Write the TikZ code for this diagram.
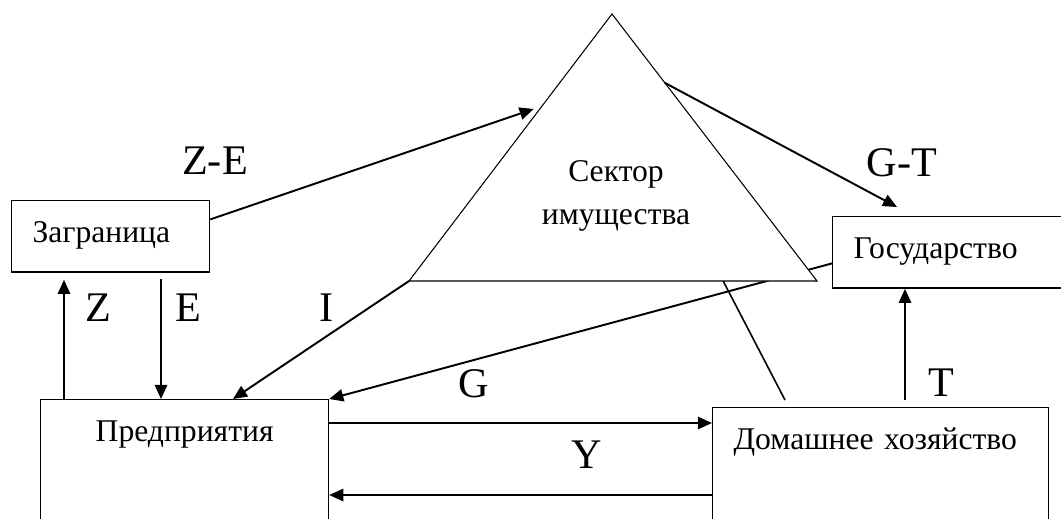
\documentclass[tikz,border=0pt]{standalone}
\usepackage{fontspec}
\setmainfont{Liberation Serif}
\usetikzlibrary{arrows.meta,calc}

\begin{document}
\begin{tikzpicture}[x=0.02cm,y=-0.02cm,
  box/.style={draw,line width=0.75pt,anchor=north west,inner xsep=0.42cm,inner ysep=0pt,
    text height=0.83cm,text depth=0.6cm,align=left,font=\fontsize{18}{22}\selectfont},
  openbox/.style={box,text depth=3cm},
  arr/.style={-{Triangle[length=8pt,width=7pt]},line width=1.1pt},
  lbl/.style={font=\fontsize{24}{28}\selectfont,inner sep=0pt}]
  \useasboundingbox (0,0) rectangle (1061,518);
  \clip (0,0) rectangle (1061,518);

  \node[box,text width=3.12cm] (zagr) at (11,200) {Заграница};
  \node[box,text width=4.0cm] (gov) at (832,216) {Государство};
  \node[openbox,text width=4.92cm,align=center] (firm) at (40,399) {Предприятия};
  \node[openbox,text width=5.88cm] (home) at (712,407) {Домашнее хозяйство};

  \coordinate (top) at (612,14);
  \coordinate (bl) at (409,281);
  \coordinate (br) at (817,281);

  \draw[arr] ($(gov.west)+(0,11)$) -- (firm.north east);
  \filldraw[fill=white,line width=0.6pt] (top) -- (br) -- (bl) -- cycle;
  \node[font=\fontsize{18}{24.4}\selectfont,align=center] (sect) at (616,196) {Сектор\\имущества};

  \draw[arr,shorten >=5pt] ($(zagr.east)+(0,-17)$) -- ($(bl)!0.655!(top)$);
  \draw[arr] ($(top)!0.258!(br)$) -- ($(gov.north west)+(65,-9)$);
  \draw[arr] (bl) -- ($(firm.north west)+(193,0)$);
  \draw[line width=0.9pt] ($(bl)!0.77!(br)$) -- ($(home.north west)+(73,-7)$);
  \draw[arr] ($(firm.north west)+(24,0)$) -- ($(zagr.south west)+(53,7)$);
  \draw[arr] ($(zagr.south west)+(150,6)$) -- ($(firm.north west)+(121,0)$);
  \draw[arr] ($(home.north west)+(193,-7)$) -- ($(gov.south west)+(73,0)$);
  \draw[arr] ($(firm.north east)+(0,24)$) -- ($(home.north west)+(0,16)$);
  \draw[arr] ($(home.north west)+(0,88)$) -- ($(firm.north east)+(0,96)$);

  \node[lbl] (lZE) at (215,161) {Z-E};
  \node[lbl] (lGT) at (902,163) {G-T};
  \node[lbl] (lZ) at (98,308) {Z};
  \node[lbl] (lE) at (188,308) {E};
  \node[lbl] (lI) at (327,308) {I};
  \node[lbl] (lG) at (474,384) {G};
  \node[lbl] (lY) at (587,455) {Y};
  \node[lbl] (lT) at (941,383) {T};
\end{tikzpicture}
\end{document}
